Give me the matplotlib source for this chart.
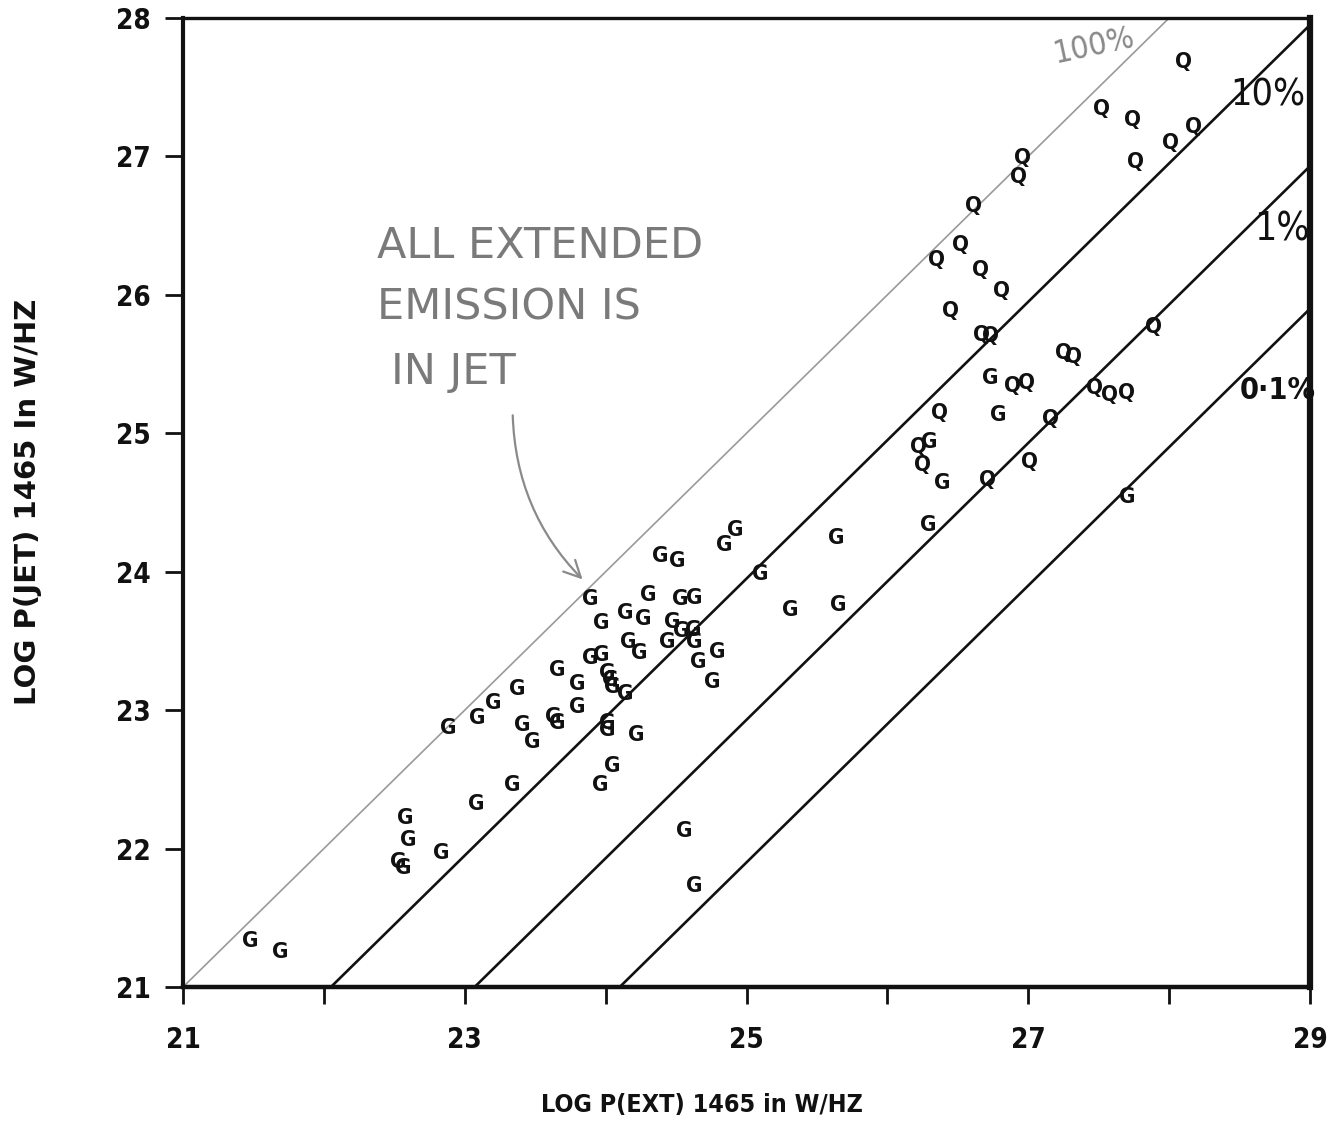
import matplotlib
matplotlib.use("Agg")
import matplotlib.pyplot as plt
import numpy as np

# ---------------- data ----------------
g_x = [21.48, 21.69, 22.58, 22.60, 22.53, 22.56, 22.83, 23.08, 23.34, 23.96,
       24.05, 24.56, 24.63, 22.88, 23.09, 23.20, 23.37, 23.66, 23.80, 23.80,
       23.41, 23.48, 23.63, 23.66, 24.01, 24.01, 24.22, 23.89, 23.97, 24.14,
       24.27, 24.30, 24.39, 24.51, 24.84, 24.92, 25.10, 25.31, 24.53, 24.63,
       24.47, 24.54, 24.62, 24.63, 24.44, 24.16, 24.24, 23.89, 23.97, 24.66,
       24.79, 24.76, 24.01, 24.03, 24.05, 24.14, 25.64, 25.65, 26.29, 26.30,
       26.39, 26.73, 26.79, 27.70]
g_y = [21.33, 21.25, 22.22, 22.06, 21.90, 21.86, 21.97, 22.32, 22.46, 22.46,
       22.60, 22.13, 21.73, 22.87, 22.94, 23.05, 23.15, 23.29, 23.19, 23.02,
       22.89, 22.77, 22.95, 22.91, 22.91, 22.86, 22.82, 23.80, 23.63, 23.70,
       23.66, 23.83, 24.11, 24.08, 24.19, 24.30, 23.98, 23.72, 23.80, 23.81,
       23.64, 23.57, 23.58, 23.49, 23.49, 23.49, 23.41, 23.38, 23.40, 23.35,
       23.42, 23.20, 23.27, 23.22, 23.17, 23.12, 24.24, 23.76, 24.34, 24.94,
       24.64, 25.40, 25.13, 24.54]

q_x = [28.10, 27.52, 27.74, 28.01, 28.17, 27.76, 26.96, 26.93, 26.61, 26.52,
       26.35, 26.66, 26.81, 26.45, 26.67, 26.73, 27.89, 27.25, 27.32, 26.89,
       26.99, 27.47, 27.58, 27.70, 26.37, 27.16, 26.22, 26.25, 27.01, 26.71]
q_y = [27.68, 27.34, 27.26, 27.10, 27.21, 26.96, 26.99, 26.85, 26.64, 26.36,
       26.25, 26.18, 26.03, 25.88, 25.71, 25.70, 25.77, 25.58, 25.55, 25.34,
       25.36, 25.33, 25.28, 25.29, 25.15, 25.10, 24.90, 24.77, 24.79, 24.66]

# reference lines  log P(jet) = log P(ext) - offset
line_labels = ["100%", "10%", "1%", "0\u00b71%"]
line_offsets = [0.0, 1.05, 2.07, 3.10]

x_ticks = [21, 23, 25, 27, 29]
x_minor = [22, 24, 26, 28]
y_ticks = [21, 22, 23, 24, 25, 26, 27, 28]

# ---------------- figure ----------------
W, H = 1335, 1123
fig = plt.figure(figsize=(W / 100, H / 100), dpi=100)
ax = fig.add_axes([183 / W, 1 - 987 / H, (1310 - 183) / W, (987 - 18) / H])
ax.set_xlim(21, 29)
ax.set_ylim(21, 28)

fam = ["DejaVu Sans"]
cond = dict(family=fam, fontstretch="condensed")

# diagonal lines
xs = np.array([20.0, 30.0])
for lab, off in zip(line_labels, line_offsets):
    if off == 0:
        ax.plot(xs, xs - off, color="#9a9a9a", lw=1.2, zorder=2)
    else:
        ax.plot(xs, xs - off, color="#111111", lw=1.9, zorder=2)

# points drawn as letters
for x, y in zip(g_x, g_y):
    ax.text(x, y, "G", ha="center", va="center", fontsize=16, fontweight="bold",
            color="#111111", zorder=3, **cond)
for x, y in zip(q_x, q_y):
    ax.text(x, y, "Q", ha="center", va="center", fontsize=16, fontweight="bold",
            color="#111111", zorder=3, **cond)

# percent labels
ax.text(27.47, 27.80, line_labels[0], ha="center", va="center", fontsize=23,
        color="#8a8a8a", rotation=12, clip_on=False, **cond)
ax.text(28.70, 27.44, line_labels[1], ha="center", va="center", fontsize=27,
        color="#111111", clip_on=False, **cond)
ax.text(28.80, 26.47, line_labels[2], ha="center", va="center", fontsize=28,
        color="#111111", clip_on=False, **cond)
ax.text(28.77, 25.31, line_labels[3], ha="center", va="center", fontsize=22,
        fontweight="bold", color="#111111", clip_on=False, **cond)

# handwritten annotation
hand_col = "#7a7a7a"
ax.text(22.38, 26.35, "ALL EXTENDED", ha="left", va="center", fontsize=31,
        color=hand_col, family=fam)
ax.text(22.38, 25.91, "EMISSION IS", ha="left", va="center", fontsize=31,
        color=hand_col, family=fam)
ax.text(22.48, 25.44, "IN JET", ha="left", va="center", fontsize=31,
        color=hand_col, family=fam)
ax.annotate("", xy=(23.85, 23.93), xytext=(23.34, 25.15),
            arrowprops=dict(arrowstyle="->", color="#8a8a8a", lw=1.6,
                            connectionstyle="arc3,rad=0.2",
                            mutation_scale=30))

# spines
for side, lw in [("left", 3.0), ("bottom", 3.2), ("top", 2.4), ("right", 4.5)]:
    ax.spines[side].set_linewidth(lw)
    ax.spines[side].set_color("#111111")

# ticks
ax.set_xticks(x_ticks)
ax.set_xticks(x_minor, minor=True)
ax.set_yticks(y_ticks)
ax.tick_params(axis="x", which="both", direction="out", length=12, width=2,
               pad=16, labelsize=20, colors="#111111")
ax.tick_params(axis="y", which="both", direction="out", length=13, width=2,
               pad=10, labelsize=20, colors="#111111")
for lab in ax.get_xticklabels() + ax.get_yticklabels():
    lab.set_family(fam)
    lab.set_fontstretch("condensed")
    lab.set_fontweight("bold")

# axis labels
fig.text(0.021, 0.553, "LOG P(JET) 1465 In W/HZ", rotation=90, ha="center",
         va="center", fontsize=21, fontweight="bold", family=fam, color="#111111")
fig.text(0.526, 0.016, "LOG P(EXT) 1465 in W/HZ", ha="center", va="center",
         fontsize=18, fontweight="bold", color="#111111", **cond)

fig.savefig("out.png", dpi=100, facecolor="white")
